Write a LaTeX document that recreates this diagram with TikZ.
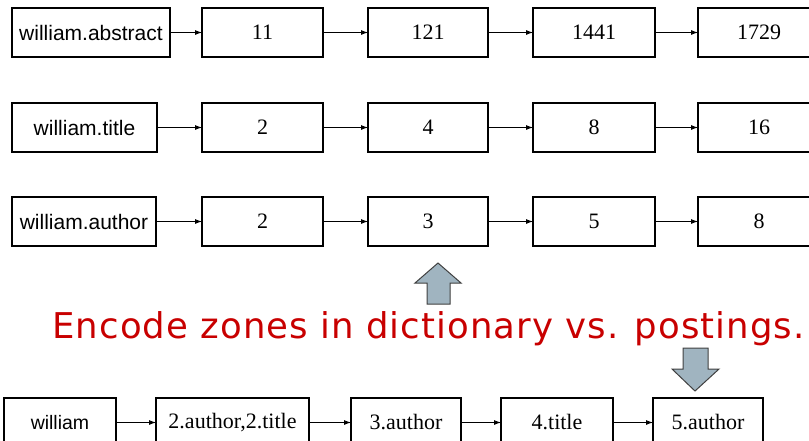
\documentclass[tikz,border=0pt]{standalone}
\usepackage{fontspec}
\setmainfont{Liberation Serif}
\setsansfont{Liberation Sans}
\newfontfamily\redfont[LetterSpace=3]{DejaVu Sans}
\usetikzlibrary{arrows.meta}
\definecolor{encred}{RGB}{200,0,0}
\definecolor{arrfill}{RGB}{160,180,192}
\definecolor{arrline}{RGB}{64,64,64}
\begin{document}
\begin{tikzpicture}[x=1pt,y=-1pt,
  box/.style={draw, line width=1.5pt, minimum height=49pt, inner sep=0pt, outer sep=0pt,
    font=\fontsize{22}{24}\selectfont},
  sbox/.style={box, font=\sffamily\fontsize{21}{24}\selectfont},
  link/.style={-{Latex[length=7pt,width=5pt]}, line width=0.8pt},
  bigarrow/.style={draw=arrline, fill=arrfill, line width=1pt, line join=miter}]
\clip (0,0) rectangle (809,440);
% row 1
\node[sbox, minimum width=158] (a0) at (91,32.5) {william.abstract};
\node[box, minimum width=121] (a1) at (262.5,32.5) {11};
\node[box, minimum width=120] (a2) at (428,32.5) {121};
\node[box, minimum width=122] (a3) at (594,32.5) {1441};
\node[box, minimum width=122] (a4) at (759,32.5) {1729};
% row 2
\node[sbox, minimum width=145] (b0) at (84.5,127.5) {william.title};
\node[box, minimum width=121] (b1) at (262.5,127.5) {2};
\node[box, minimum width=120] (b2) at (428,127.5) {4};
\node[box, minimum width=122] (b3) at (594,127.5) {8};
\node[box, minimum width=122] (b4) at (759,127.5) {16};
% row 3
\node[sbox, minimum width=144] (c0) at (84,221.5) {william.author};
\node[box, minimum width=121] (c1) at (262.5,221.5) {2};
\node[box, minimum width=120] (c2) at (428,221.5) {3};
\node[box, minimum width=122] (c3) at (594,221.5) {5};
\node[box, minimum width=122] (c4) at (759,221.5) {8};
% bottom row
\node[sbox, minimum width=112, font=\sffamily\fontsize{19.5}{22}\selectfont] (d0) at (60,422.5) {william};
\node[box, minimum width=153] (d1) at (232.5,422.5) {2.author,2.title};
\node[box, minimum width=110] (d2) at (406,422.5) {3.author};
\node[box, minimum width=112] (d3) at (557,422.5) {4.title};
\node[box, minimum width=110] (d4) at (708,422.5) {5.author};
% links
\foreach \r in {a,b,c,d}{
  \draw[link] (\r0.east) -- (\r1.west);
  \draw[link] (\r1.east) -- (\r2.west);
  \draw[link] (\r2.east) -- (\r3.west);
  \draw[link] (\r3.east) -- (\r4.west);
}
% caption
\node[text=encred, font=\redfont\fontsize{35.5}{40}\selectfont, anchor=base, inner sep=0pt] (enc) at (428.5,338) {Encode zones in dictionary vs. postings.};
% block arrows
\path[bigarrow] (438,263) -- (461,283) -- (450,283) -- (450,304) -- (427,304) -- (427,283) -- (415,283) -- cycle;
\path[bigarrow] (683,348) -- (708,348) -- (708,369) -- (719,369) -- (695,391) -- (672,369) -- (683,369) -- cycle;
\end{tikzpicture}
\end{document}
